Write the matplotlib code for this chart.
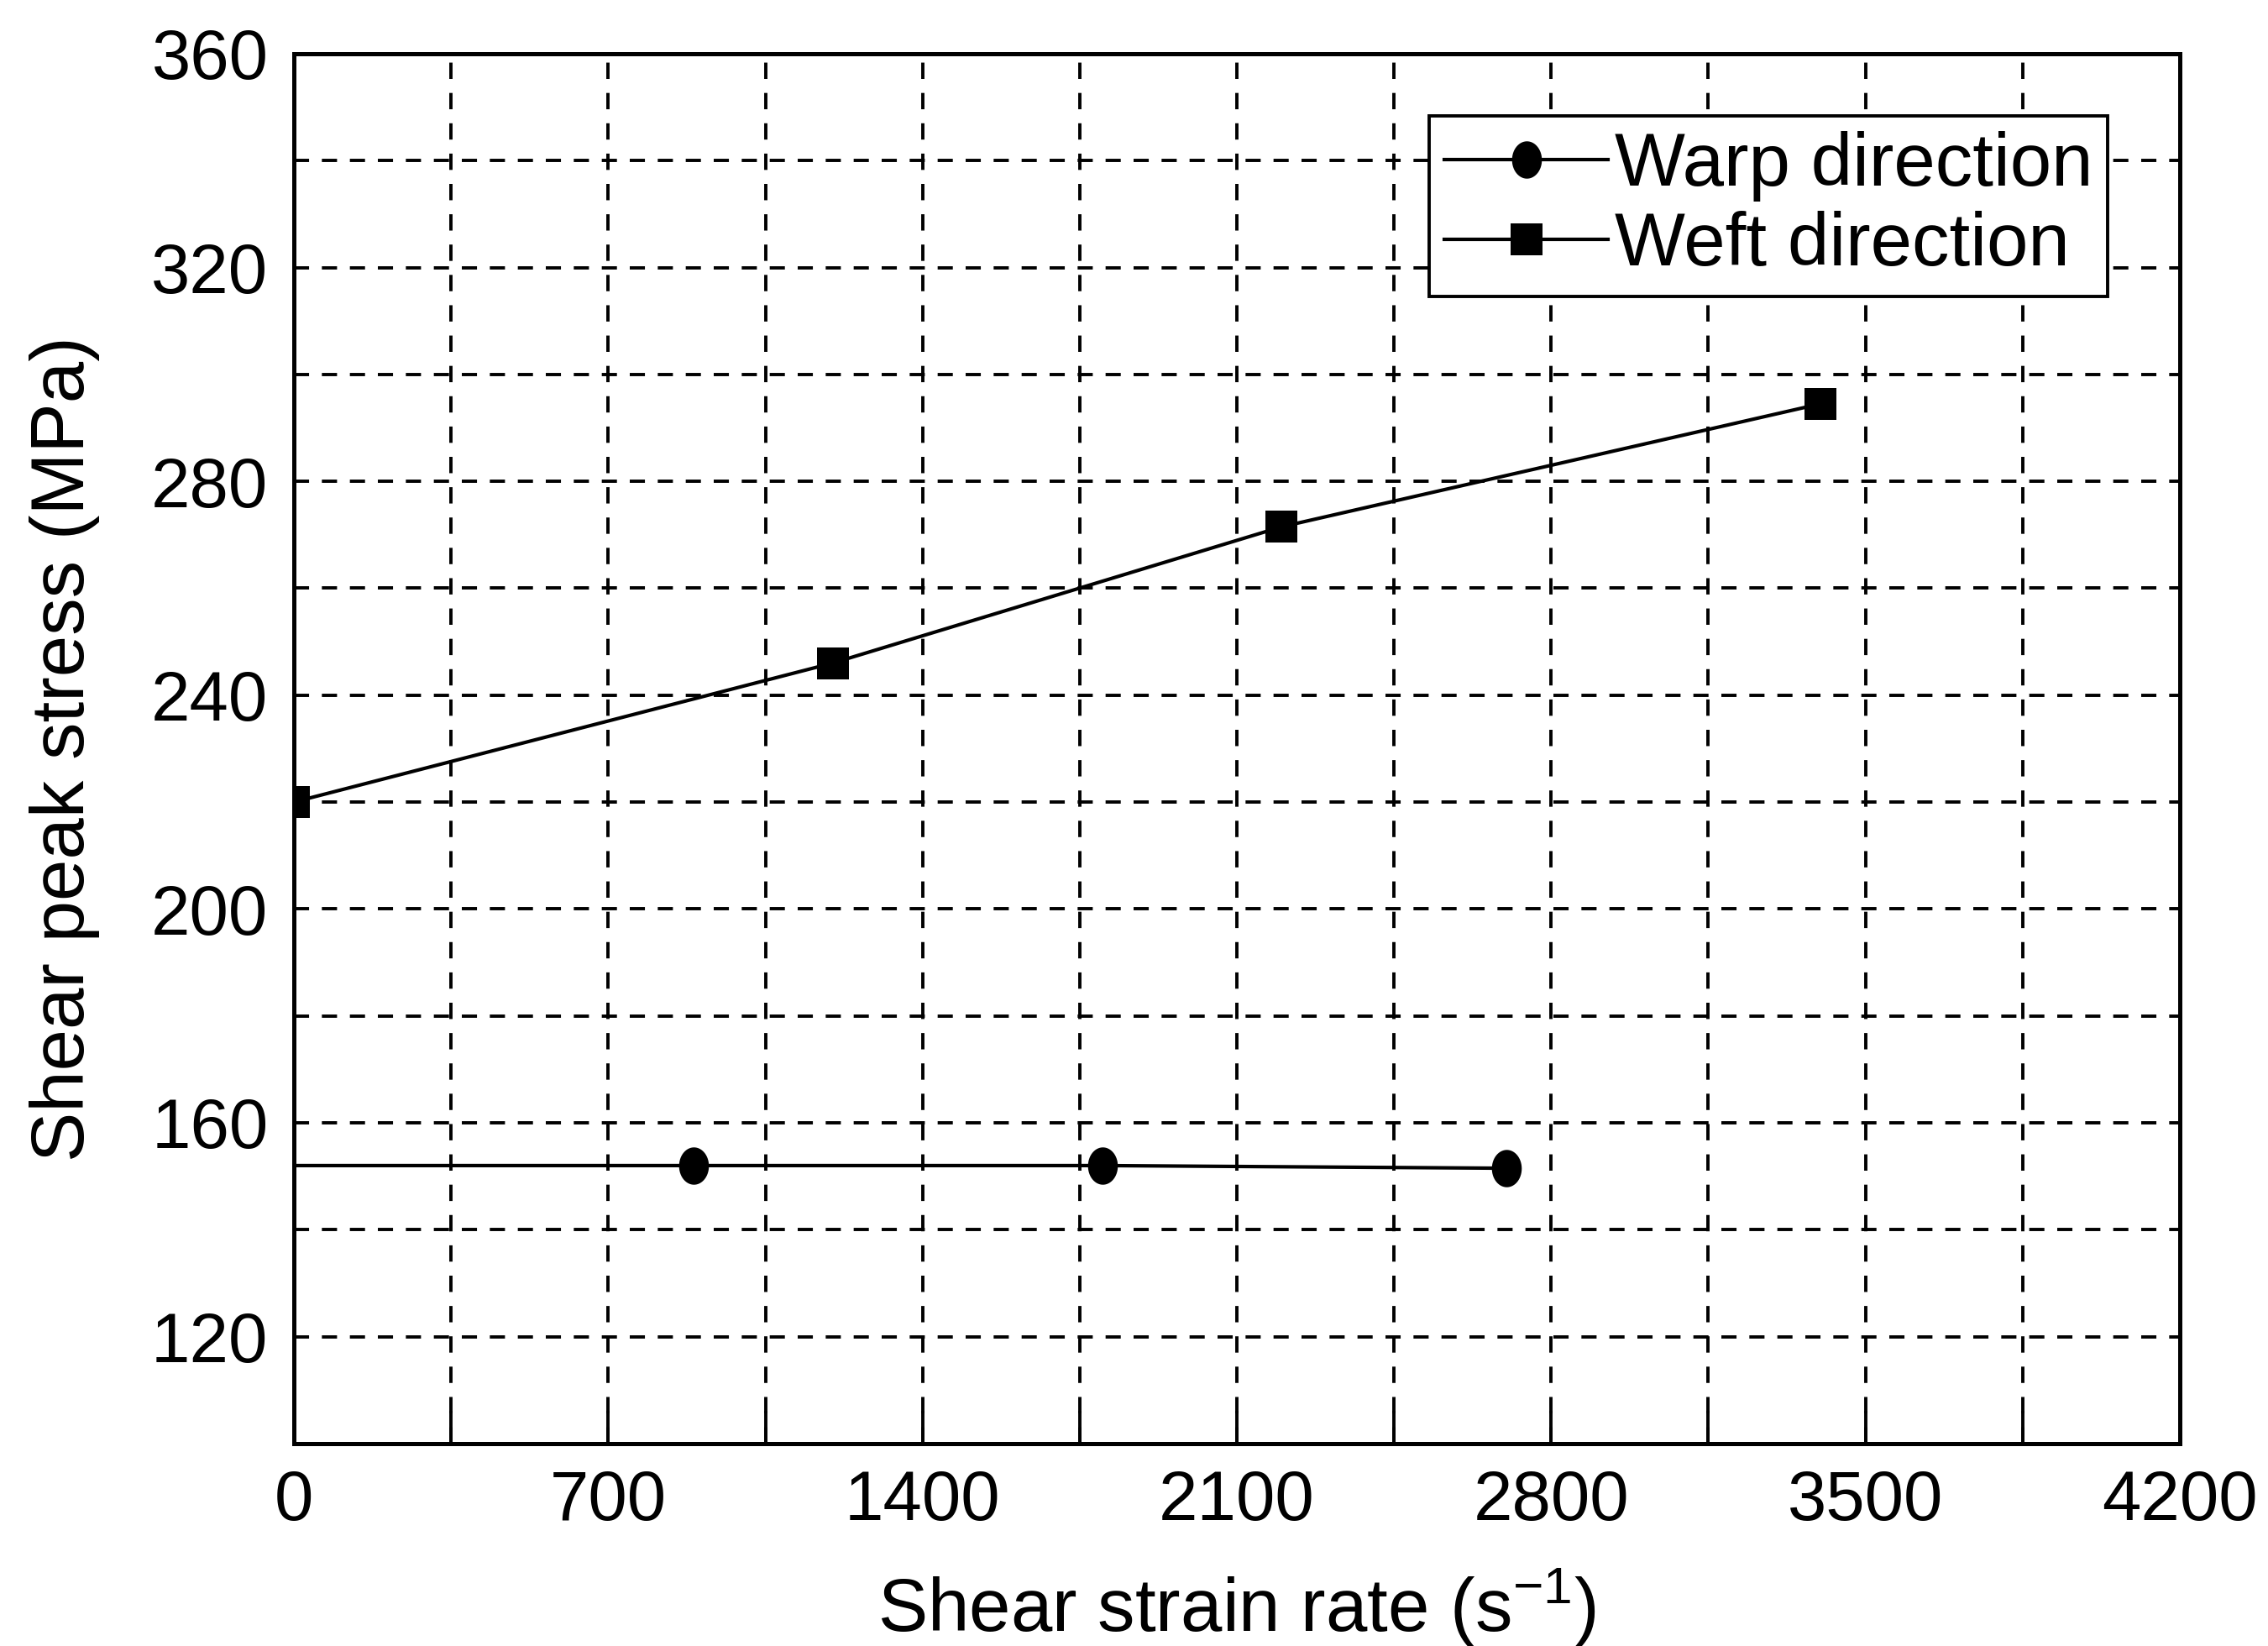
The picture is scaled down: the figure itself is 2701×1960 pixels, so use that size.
import matplotlib
matplotlib.use("Agg")
import matplotlib.pyplot as plt
import numpy as np
from matplotlib.ticker import MultipleLocator, FixedLocator

# ---- data ----
warp_rate = [0, 890, 1800, 2700]
warp_stress = [152, 152, 152, 151.5]
weft_rate = [0, 1200, 2200, 3400]
weft_stress = [220, 246, 271.5, 294.5]
x_ticks = [0, 700, 1400, 2100, 2800, 3500, 4200]
y_ticks = [120, 160, 200, 240, 280, 320, 360]

plt.rcParams['font.family'] = ['Liberation Sans', 'DejaVu Sans']
plt.rcParams['mathtext.fontset'] = 'custom'
plt.rcParams['mathtext.rm'] = 'Liberation Sans'
plt.rcParams['mathtext.it'] = 'Liberation Sans'
plt.rcParams['lines.scale_dashes'] = False

fig = plt.figure(figsize=(27.01, 19.60), dpi=100)
ax = fig.add_axes([0.1296, 0.1230, 0.8315, 0.8444])

ax.set_xlim(0, 4200)
ax.set_ylim(100, 360)
ax.xaxis.set_major_locator(FixedLocator(x_ticks))
ax.xaxis.set_minor_locator(MultipleLocator(350))
ax.yaxis.set_major_locator(FixedLocator(y_ticks))
ax.yaxis.set_minor_locator(MultipleLocator(20))

ax.grid(True, which='both', axis='x', color='black', linewidth=2.8, linestyle=(0, (14, 12)))
ax.grid(True, which='both', axis='y', color='black', linewidth=2.8, linestyle=(0, (13, 11)))
ax.set_axisbelow(True)

ax.tick_params(axis='both', which='both', direction='in', length=0, width=2.8,
               labelsize=60, pad=22, colors='black')
ax.tick_params(axis='x', which='both', length=28)

for s in ax.spines.values():
    s.set_linewidth(3.6)
    s.set_color('black')

# ellipse-like circle marker
t = np.linspace(0, 2 * np.pi, 60)
ellipse = list(zip(0.8 * np.cos(t), np.sin(t)))

ax.plot(warp_rate, warp_stress, color='black', linewidth=3.0, marker=ellipse,
        markersize=32, markevery=[1, 2, 3], markeredgewidth=0,
        markerfacecolor='black', label='Warp direction', zorder=3)
ax.plot(weft_rate, weft_stress, color='black', linewidth=3.0, marker='s',
        markersize=27, markeredgewidth=0, markerfacecolor='black',
        label='Weft direction', zorder=3)

ax.set_xlabel(r'Shear strain rate (s$^{-1}$)', fontsize=64)
ax.set_ylabel('Shear peak stress (MPa)', fontsize=64)
ax.xaxis.set_label_coords(0.5, -0.088)
ax.yaxis.set_label_coords(-0.103, 0.5)

leg = ax.legend(loc='upper left', bbox_to_anchor=(0.602, 0.955), fontsize=64,
                frameon=True, fancybox=False, edgecolor='black', framealpha=1,
                borderpad=0.2, handlelength=2.2, handletextpad=0.08,
                labelspacing=0.12, borderaxespad=0)
leg.get_frame().set_linewidth(2.8)

fig.savefig('out.png', dpi=100)
